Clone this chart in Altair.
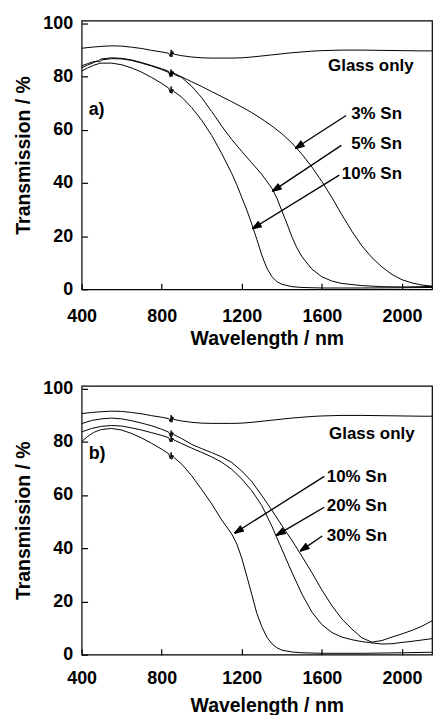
import math
import altair as alt
import pandas as pd

# ---------------- axes ----------------
X_MIN, X_MAX = 400, 2150
Y_MIN, Y_MAX = 0, 101
X_TICKS = [400, 800, 1200, 1600, 2000]
Y_TICKS = [0, 20, 40, 60, 80, 100]

# ---------------- data ----------------
GLASS_WL = [400, 450, 500, 550, 600, 650, 700, 750, 800, 835, 843, 847, 851, 855, 860, 900, 950,
            1000, 1050, 1100, 1150, 1200, 1250, 1300, 1350, 1400, 1450, 1500, 1550, 1600, 1650,
            1700, 1800, 1900, 2000, 2100, 2150]
GLASS_T = [90.6, 91.0, 91.3, 91.5, 91.4, 91.0, 90.5, 89.8, 89.2, 88.7, 87.4, 90.0, 87.3, 89.4, 88.4,
           87.8, 87.3, 87.0, 86.9, 86.9, 86.9, 87.0, 87.3, 87.7, 88.1, 88.5, 88.9, 89.2, 89.5, 89.7,
           89.8, 89.9, 89.9, 89.8, 89.7, 89.6, 89.6]

# panel a)
A3_WL = [400, 430, 460, 480, 490, 500, 550, 600, 650, 700, 750, 800, 835, 843, 847, 851, 855, 860,
         900, 950, 1000, 1050, 1100, 1150, 1200, 1250, 1300, 1350, 1400, 1450, 1500, 1550, 1600,
         1650, 1700, 1750, 1800, 1850, 1900, 1950, 2000, 2050, 2100, 2150]
A3_T = [84.0, 84.8, 85.6, 85.6, 86.3, 86.6, 87.0, 86.8, 86.2, 85.2, 84.1, 82.9, 81.9, 80.3, 82.6,
        80.4, 82.0, 81.3, 79.8, 78.0, 76.2, 74.3, 72.4, 70.5, 68.5, 66.4, 64.0, 61.4, 58.5, 55.0,
        50.8, 46.0, 40.5, 34.5, 28.0, 21.8, 16.3, 11.9, 8.4, 5.6, 3.6, 2.4, 1.6, 1.2]

A5_WL = [400, 430, 460, 480, 490, 500, 550, 600, 650, 700, 750, 800, 835, 843, 847, 851, 855, 860,
         900, 950, 1000, 1050, 1100, 1150, 1200, 1250, 1300, 1350, 1375, 1400, 1425, 1450, 1475,
         1500, 1550, 1600, 1650, 1700, 1800, 1900, 2000, 2100, 2150]
A5_T = [83.2, 84.3, 85.2, 85.9, 85.4, 86.2, 86.7, 86.6, 86.0, 85.0, 83.9, 82.6, 81.5, 79.8, 82.2,
        79.9, 81.6, 80.8, 79.6, 76.3, 72.0, 66.8, 61.3, 56.3, 51.8, 47.5, 43.2, 38.0, 34.3, 29.5,
        24.8, 19.8, 15.6, 12.3, 7.6, 4.7, 3.1, 2.2, 1.4, 1.0, 0.9, 1.0, 1.1]

A10_WL = [400, 430, 460, 490, 500, 550, 600, 650, 700, 750, 800, 835, 843, 847, 851, 855, 860, 900,
          950, 1000, 1050, 1100, 1150, 1175, 1200, 1225, 1250, 1275, 1300, 1325, 1350, 1375, 1400,
          1450, 1500, 1600, 1800, 2000, 2150]
A10_T = [82.0, 83.2, 84.2, 84.9, 85.0, 85.0, 84.4, 83.2, 81.6, 79.6, 77.4, 75.6, 73.8, 76.2, 73.6,
         75.2, 74.4, 72.2, 68.3, 63.5, 57.8, 51.0, 43.5, 39.3, 34.5, 29.8, 24.5, 18.8, 12.8, 8.0,
         4.8, 2.9, 1.9, 1.0, 0.7, 0.5, 0.5, 0.6, 0.7]

# panel b)
B10_WL = [400, 430, 460, 490, 500, 550, 600, 650, 700, 750, 800, 835, 843, 847, 851, 855, 860, 900,
          950, 1000, 1050, 1100, 1150, 1175, 1200, 1225, 1250, 1275, 1300, 1325, 1350, 1375, 1400,
          1450, 1500, 1600, 1800, 2000, 2150]
B10_T = [80.0, 82.0, 83.5, 84.4, 84.6, 85.0, 84.4, 83.1, 81.4, 79.4, 77.2, 75.5, 73.6, 76.0, 73.4,
         75.0, 74.2, 71.6, 67.2, 62.0, 56.6, 50.6, 45.3, 41.6, 36.2, 29.5, 22.6, 15.5, 10.5, 6.6,
         4.1, 2.6, 1.7, 1.0, 0.7, 0.5, 0.5, 0.7, 0.9]

B20_WL = [400, 450, 500, 550, 600, 650, 700, 750, 800, 835, 843, 847, 851, 855, 860, 900, 950,
          1000, 1050, 1100, 1150, 1200, 1250, 1300, 1350, 1400, 1450, 1500, 1550, 1600, 1650, 1700,
          1750, 1800, 1850, 1900, 1950, 2000, 2050, 2100, 2150]
B20_T = [83.7, 85.0, 85.8, 86.1, 85.9, 85.2, 84.4, 83.4, 82.4, 81.5, 79.9, 82.1, 79.9, 81.4, 80.7,
         79.3, 77.6, 76.0, 74.3, 72.3, 69.6, 66.0, 61.6, 56.0, 48.3, 39.6, 31.0, 22.8, 16.0, 11.3,
         8.3, 6.6, 5.6, 4.9, 4.4, 4.0, 4.1, 4.6, 5.0, 5.5, 6.0]

B30_WL = [400, 450, 500, 550, 600, 650, 700, 750, 800, 835, 843, 847, 851, 855, 860, 900, 950,
          1000, 1050, 1100, 1150, 1200, 1250, 1300, 1350, 1400, 1450, 1500, 1550, 1600, 1650, 1700,
          1750, 1800, 1850, 1900, 1950, 2000, 2050, 2100, 2150]
B30_T = [86.8, 88.0, 88.6, 88.9, 88.6, 87.9, 87.0, 86.0, 84.7, 83.6, 82.0, 84.2, 82.0, 83.5, 82.7,
         81.2, 79.0, 77.4, 75.9, 74.3, 72.2, 69.0, 65.0, 59.8, 54.3, 48.5, 43.0, 37.0, 30.8, 24.3,
         18.4, 13.4, 9.6, 6.3, 4.7, 5.3, 6.6, 7.8, 9.1, 10.7, 12.7]

# labels (text, x, y) and arrows (x start, y start, x tip, y tip), in data units
A_LABELS = ["Glass only", "3% Sn", "5% Sn", "10% Sn"]
A_LABEL_X = [2058, 2000, 2000, 2000]
A_LABEL_Y = [84.1, 65.9, 54.7, 43.5]
A_ARROW_X0 = [1721, 1697, 1687]
A_ARROW_Y0 = [65.3, 54.1, 42.9]
A_ARROW_X1 = [1468, 1354, 1254]
A_ARROW_Y1 = [53.0, 36.9, 22.8]

B_LABELS = ["Glass only", "10% Sn", "20% Sn", "30% Sn"]
B_LABEL_X = [2063, 1925, 1925, 1925]
B_LABEL_Y = [83.0, 66.9, 55.7, 44.5]
B_ARROW_X0 = [1612, 1612, 1602]
B_ARROW_Y0 = [67.0, 55.4, 44.6]
B_ARROW_X1 = [1165, 1374, 1493]
B_ARROW_Y1 = [45.7, 44.9, 39.0]

PANEL_LETTERS = ["a)", "b)"]
LETTER_X = [435, 435]
LETTER_Y = [67.4, 75.5]

# ---------------- styling ----------------
W, H = 352, 270
FONT = "Liberation Sans"
PX_PER_X = W / (X_MAX - X_MIN)
PX_PER_Y = H / (Y_MAX - Y_MIN)
TICK_PX = 6
HEAD_LEN_PX = 9
HEAD_HALF_W_PX = 3.2

xs = alt.Scale(domain=[X_MIN, X_MAX], nice=False, zero=False)
ys = alt.Scale(domain=[Y_MIN, Y_MAX], nice=False, zero=False)


def curves_df(items):
    rows = []
    for name, wl, t in items:
        for a, b in zip(wl, t):
            rows.append({"series": name, "wl": a, "T": b})
    return pd.DataFrame(rows)


def segments(tag, ax0, ay0, ax1, ay1):
    """Arrow shafts and filled-looking arrowheads (fan of short strokes)."""
    rows = []

    def add(kind, x0, y0, x1, y1):
        rows.append({"panel": tag, "kind": kind, "x0": x0, "y0": y0, "x1": x1, "y1": y1})

    for a, b, c, d in zip(ax0, ay0, ax1, ay1):
        add("arrow", a, b, c, d)
        dxp = (c - a) * PX_PER_X
        dyp = (d - b) * PX_PER_Y
        n = math.hypot(dxp, dyp)
        ux, uy = dxp / n, dyp / n
        px, py = -uy, ux
        for k in range(9):
            f = -1 + 2 * k / 8
            ox = -ux * HEAD_LEN_PX + px * HEAD_HALF_W_PX * f
            oy = -uy * HEAD_LEN_PX + py * HEAD_HALF_W_PX * f
            add("head", c, d, c + ox / PX_PER_X, d + oy / PX_PER_Y)
    return pd.DataFrame(rows)


def panel(tag, items, labels, lx, ly, ax0, ay0, ax1, ay1, letter, letx, lety, label_pad, title_y):
    # axes moved inward by the tick length so the (outward) ticks end on the frame: inward ticks
    x_axis = alt.Axis(values=X_TICKS, format="d", labelFlush=False, title="Wavelength / nm",
                      offset=-TICK_PX, labelPadding=label_pad, labelBaseline="alphabetic",
                      titleBaseline="alphabetic", titleY=title_y + TICK_PX, titleX=186,
                      titleAlign="center")
    y_axis = alt.Axis(values=Y_TICKS, format="d", labelFlush=False, title="Transmission / %",
                      offset=-TICK_PX, labelPadding=9, titleBaseline="alphabetic",
                      titleX=-52 - TICK_PX, titleY=H / 2, titleAlign="center")

    def X(f):
        return alt.X(f, scale=xs, axis=x_axis)

    def Y(f):
        return alt.Y(f, scale=ys, axis=y_axis)

    lines = alt.Chart(curves_df(items)).mark_line(color="black", strokeWidth=1, clip=True).encode(
        x=X("wl:Q"), y=Y("T:Q"), detail="series:N")

    strokes = alt.Chart(segments(tag, ax0, ay0, ax1, ay1)).mark_rule(
        color="black", strokeWidth=1.3).encode(
        x=X("x0:Q"), y=Y("y0:Q"), x2="x1:Q", y2="y1:Q")

    tdf = pd.DataFrame({"t": labels, "x": lx, "y": ly})
    texts = alt.Chart(tdf).mark_text(align="right", baseline="middle", font=FONT, fontSize=17,
                                     fontWeight="bold", color="black").encode(
        x=X("x:Q"), y=Y("y:Q"), text="t:N")
    ldf = pd.DataFrame({"t": [letter], "x": [letx], "y": [lety]})
    letter_t = alt.Chart(ldf).mark_text(align="left", baseline="middle", font=FONT, fontSize=18,
                                        fontWeight="bold", color="black").encode(
        x=X("x:Q"), y=Y("y:Q"), text="t:N")

    return alt.layer(lines, strokes, texts, letter_t).properties(width=W, height=H)


top = panel("a", [("Glass", GLASS_WL, GLASS_T), ("3%", A3_WL, A3_T), ("5%", A5_WL, A5_T),
                  ("10%", A10_WL, A10_T)],
            A_LABELS, A_LABEL_X, A_LABEL_Y, A_ARROW_X0, A_ARROW_Y0, A_ARROW_X1, A_ARROW_Y1,
            PANEL_LETTERS[0], LETTER_X[0], LETTER_Y[0], label_pad=32, title_y=55)
bottom = panel("b", [("Glass", GLASS_WL, GLASS_T), ("10%", B10_WL, B10_T), ("20%", B20_WL, B20_T),
                     ("30%", B30_WL, B30_T)],
               B_LABELS, B_LABEL_X, B_LABEL_Y, B_ARROW_X0, B_ARROW_Y0, B_ARROW_X1, B_ARROW_Y1,
               PANEL_LETTERS[1], LETTER_X[1], LETTER_Y[1], label_pad=28.5, title_y=57.5)

chart = alt.vconcat(top, bottom, spacing=30).properties(
    padding={"left": 13, "top": 12, "right": 0, "bottom": 0},
    background="white",
).configure_view(stroke="black", strokeWidth=1.2).configure_axis(
    domain=False, ticks=True, tickSize=TICK_PX, tickColor="black", tickWidth=1.2, grid=False,
    labelFont=FONT, labelFontSize=18, labelFontWeight="bold", labelColor="black",
    titleFont=FONT, titleFontSize=19.5, titleFontWeight="bold", titleColor="black",
)

chart.save("out.html", embed_options={"renderer": "svg", "actions": False})
